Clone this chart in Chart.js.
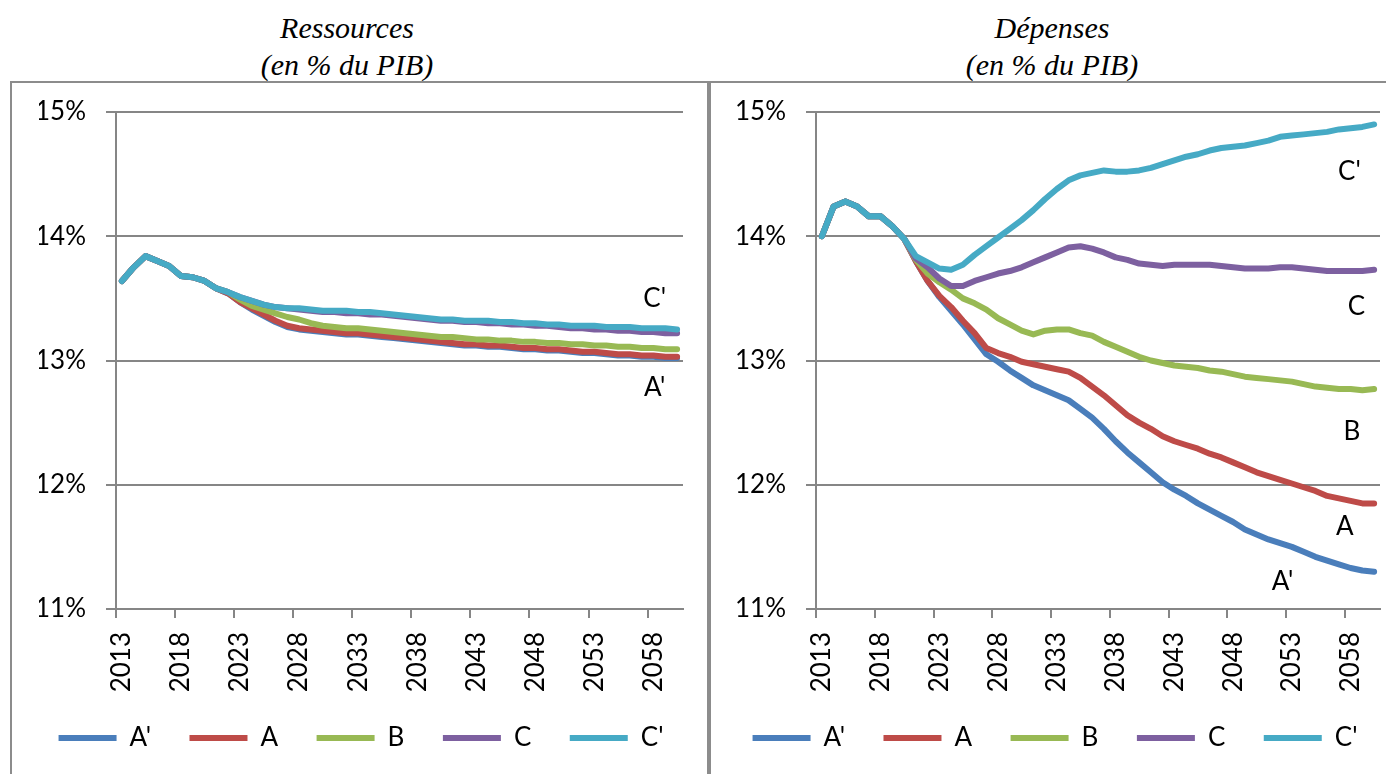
<!DOCTYPE html>
<html>
<head>
<meta charset="utf-8">
<script src="https://cdn.jsdelivr.net/npm/chart.js@4.4.1/dist/chart.umd.min.js"></script>
<style>
  html, body { margin: 0; padding: 0; background: #fff; width: 1386px; height: 774px; overflow: hidden; }
  .title { position: absolute; top: 9px; width: 694px; text-align: center; color: #000;
           font-family: "Liberation Serif", "Times New Roman", serif; font-style: italic;
           font-size: 30px; line-height: 37px; }
  .box { position: absolute; top: 81px; height: 720px; border: 2px solid #8c8c8c; box-sizing: border-box; }
  .wrap { position: absolute; top: 84px; height: 690px; }
</style>
</head>
<body>
<div class="title" style="left:0">Ressources<br>(en % du PIB)</div>
<div class="title" style="left:705px">Dépenses<br>(en % du PIB)</div>
<div class="box" style="left:10px;width:699px"></div>
<div class="box" style="left:709px;width:700px"></div>
<div class="wrap" style="left:12px;width:694px"><canvas id="chartRes" width="694" height="690"></canvas></div>
<div class="wrap" style="left:712px;width:674px"><canvas id="chartDep" width="674" height="690"></canvas></div>

<script>
// années 2013 à 2060
const years = [];
for (let y = 2013; y <= 2060; y++) years.push(String(y));

const seriesNames = ["A'", "A", "B", "C", "C'"];
const seriesColors = ["#4a7ebb", "#be4b48", "#98b954", "#7d60a0", "#46aac5"];
const yTickValues = [11, 12, 13, 14, 15];

// Ressources (en % du PIB)
const resAprime = [13.64, 13.75, 13.84, 13.80, 13.76, 13.68, 13.67, 13.64, 13.58, 13.54,
  13.47, 13.41, 13.36, 13.31, 13.27, 13.25, 13.24, 13.23, 13.22, 13.21,
  13.21, 13.20, 13.19, 13.18, 13.17, 13.16, 13.15, 13.14, 13.13, 13.12,
  13.12, 13.11, 13.11, 13.10, 13.09, 13.09, 13.08, 13.08, 13.07, 13.06,
  13.06, 13.05, 13.04, 13.04, 13.03, 13.03, 13.02, 13.02];
const resA = [13.64, 13.75, 13.84, 13.80, 13.76, 13.68, 13.67, 13.64, 13.58, 13.54,
  13.47, 13.42, 13.37, 13.32, 13.28, 13.26, 13.25, 13.24, 13.23, 13.22,
  13.22, 13.21, 13.20, 13.19, 13.18, 13.17, 13.16, 13.15, 13.14, 13.13,
  13.13, 13.12, 13.12, 13.11, 13.10, 13.10, 13.09, 13.09, 13.08, 13.07,
  13.07, 13.06, 13.05, 13.05, 13.04, 13.04, 13.03, 13.03];
const resB = [13.64, 13.75, 13.84, 13.80, 13.76, 13.68, 13.67, 13.64, 13.58, 13.55,
  13.49, 13.44, 13.41, 13.38, 13.35, 13.33, 13.30, 13.28, 13.27, 13.26,
  13.26, 13.25, 13.24, 13.23, 13.22, 13.21, 13.20, 13.19, 13.19, 13.18,
  13.17, 13.17, 13.16, 13.16, 13.15, 13.15, 13.14, 13.14, 13.13, 13.13,
  13.12, 13.12, 13.11, 13.11, 13.10, 13.10, 13.09, 13.09];
const resC = [13.64, 13.75, 13.84, 13.80, 13.76, 13.68, 13.67, 13.64, 13.58, 13.55,
  13.51, 13.48, 13.45, 13.43, 13.42, 13.41, 13.40, 13.39, 13.39, 13.38,
  13.38, 13.37, 13.37, 13.36, 13.35, 13.34, 13.33, 13.32, 13.32, 13.31,
  13.31, 13.30, 13.30, 13.29, 13.29, 13.28, 13.28, 13.27, 13.26, 13.26,
  13.25, 13.25, 13.24, 13.24, 13.23, 13.23, 13.22, 13.22];
const resCprime = [13.64, 13.75, 13.84, 13.80, 13.76, 13.68, 13.67, 13.64, 13.58, 13.55,
  13.51, 13.48, 13.45, 13.43, 13.42, 13.42, 13.41, 13.40, 13.40, 13.40,
  13.39, 13.39, 13.38, 13.37, 13.36, 13.35, 13.34, 13.33, 13.33, 13.32,
  13.32, 13.32, 13.31, 13.31, 13.30, 13.30, 13.29, 13.29, 13.28, 13.28,
  13.28, 13.27, 13.27, 13.27, 13.26, 13.26, 13.26, 13.25];

// Dépenses (en % du PIB)
const depAprime = [14.00, 14.24, 14.28, 14.24, 14.16, 14.16, 14.08, 13.98, 13.80, 13.64,
  13.51, 13.40, 13.29, 13.17, 13.05, 12.99, 12.92, 12.86, 12.80, 12.76,
  12.72, 12.68, 12.61, 12.54, 12.45, 12.35, 12.26, 12.18, 12.10, 12.02,
  11.96, 11.91, 11.85, 11.80, 11.75, 11.70, 11.64, 11.60, 11.56, 11.53,
  11.50, 11.46, 11.42, 11.39, 11.36, 11.33, 11.31, 11.30];
const depA = [14.00, 14.24, 14.28, 14.24, 14.16, 14.16, 14.08, 13.98, 13.80, 13.64,
  13.52, 13.43, 13.32, 13.22, 13.10, 13.06, 13.03, 12.99, 12.97, 12.95,
  12.93, 12.91, 12.86, 12.79, 12.72, 12.64, 12.56, 12.50, 12.45, 12.39,
  12.35, 12.32, 12.29, 12.25, 12.22, 12.18, 12.14, 12.10, 12.07, 12.04,
  12.01, 11.98, 11.95, 11.91, 11.89, 11.87, 11.85, 11.85];
const depB = [14.00, 14.24, 14.28, 14.24, 14.16, 14.16, 14.08, 13.98, 13.81, 13.70,
  13.63, 13.57, 13.50, 13.46, 13.41, 13.34, 13.29, 13.24, 13.21, 13.24,
  13.25, 13.25, 13.22, 13.20, 13.15, 13.11, 13.07, 13.03, 13.00, 12.98,
  12.96, 12.95, 12.94, 12.92, 12.91, 12.89, 12.87, 12.86, 12.85, 12.84,
  12.83, 12.81, 12.79, 12.78, 12.77, 12.77, 12.76, 12.77];
const depC = [14.00, 14.24, 14.28, 14.24, 14.16, 14.16, 14.08, 13.98, 13.82, 13.75,
  13.66, 13.60, 13.60, 13.64, 13.67, 13.70, 13.72, 13.75, 13.79, 13.83,
  13.87, 13.91, 13.92, 13.90, 13.87, 13.83, 13.81, 13.78, 13.77, 13.76,
  13.77, 13.77, 13.77, 13.77, 13.76, 13.75, 13.74, 13.74, 13.74, 13.75,
  13.75, 13.74, 13.73, 13.72, 13.72, 13.72, 13.72, 13.73];
const depCprime = [14.00, 14.24, 14.28, 14.24, 14.16, 14.16, 14.08, 13.98, 13.84, 13.79,
  13.74, 13.73, 13.77, 13.85, 13.92, 13.99, 14.06, 14.13, 14.21, 14.30,
  14.38, 14.45, 14.49, 14.51, 14.53, 14.52, 14.52, 14.53, 14.55, 14.58,
  14.61, 14.64, 14.66, 14.69, 14.71, 14.72, 14.73, 14.75, 14.77, 14.80,
  14.81, 14.82, 14.83, 14.84, 14.86, 14.87, 14.88, 14.90];

// étiquettes des courbes (position en index d'année, valeur)
const resLabelText = ["C'", "A'"];
const resLabelX = [45.1, 45.1];
const resLabelY = [13.50, 12.78];
const depLabelText = ["C'", "C", "B", "A", "A'"];
const depLabelX = [44.9, 45.5, 45.1, 44.5, 39.2];
const depLabelY = [14.52, 13.43, 12.43, 11.66, 11.22];

const FONT = "Lato, 'Open Sans', sans-serif";
const GRID = "#868686";

// étiquettes dessinées dans la zone du graphique
const seriesLabels = {
  id: "seriesLabels",
  afterDatasetsDraw(chart, args, opts) {
    const ctx = chart.ctx;
    const x = chart.scales.x;
    const y = chart.scales.y;
    ctx.save();
    ctx.font = "26px " + FONT;
    ctx.fillStyle = "#000";
    ctx.textAlign = "center";
    ctx.textBaseline = "middle";
    opts.text.forEach(function (t, i) {
      ctx.fillText(t, x.getPixelForValue(opts.xs[i]), y.getPixelForValue(opts.ys[i]));
    });
    ctx.restore();
  }
};

function makeChart(id, data, labelText, labelX, labelY, padLeft, padRight) {
  const datasets = seriesNames.map(function (name, i) {
    return {
      label: name,
      data: data[i],
      borderColor: seriesColors[i],
      backgroundColor: seriesColors[i],
      borderWidth: 6,
      borderCapStyle: "round",
      borderJoinStyle: "round",
      pointRadius: 0,
      tension: 0,
      order: seriesNames.length - 1 - i
    };
  });

  return new Chart(document.getElementById(id), {
    type: "line",
    data: { labels: years, datasets: datasets },
    plugins: [seriesLabels],
    options: {
      responsive: false,
      animation: false,
      layout: { padding: { left: padLeft, right: padRight, top: 28, bottom: 13 } },
      plugins: {
        title: { display: false },
        tooltip: { enabled: false },
        seriesLabels: { text: labelText, xs: labelX, ys: labelY },
        legend: {
          position: "bottom",
          labels: {
            usePointStyle: true,
            pointStyle: "line",
            pointStyleWidth: 58,
            padding: 6,
            color: "#000",
            font: { family: FONT, size: 26 },
            // espace après chaque entrée sauf la dernière
            generateLabels: function (chart) {
              const items = Chart.defaults.plugins.legend.labels.generateLabels(chart);
              items.forEach(function (it) {
                if (it.datasetIndex < seriesNames.length - 1) it.text += "\u2003\u2002";
              });
              return items;
            },
            sort: function (a, b) { return a.datasetIndex - b.datasetIndex; }
          }
        }
      },
      scales: {
        x: {
          offset: true,
          afterFit: function (scale) {
            scale.height = 110;
            scale.paddingLeft = 0;
            scale.paddingRight = 0;
          },
          grid: {
            offset: true,
            drawOnChartArea: false,
            drawTicks: true,
            tickLength: 9,
            lineWidth: 2,
            color: function (ctx) { return ctx.index % 5 === 0 ? GRID : "rgba(0,0,0,0)"; }
          },
          border: { display: true, color: GRID, width: 2 },
          ticks: {
            autoSkip: false,
            maxRotation: 90,
            minRotation: 90,
            padding: 14,
            color: "#000",
            font: { family: FONT, size: 26 },
            callback: function (val, index) { return index % 5 === 0 ? this.getLabelForValue(val) : ""; }
          }
        },
        y: {
          min: yTickValues[0],
          max: yTickValues[yTickValues.length - 1],
          afterFit: function (scale) {
            scale.width = 104 - padLeft;
            scale.paddingTop = 0;
            scale.paddingBottom = 0;
          },
          afterBuildTicks: function (scale) {
            scale.ticks = yTickValues.map(function (v) { return { value: v }; });
          },
          grid: { color: GRID, lineWidth: 2, tickLength: 10 },
          border: { display: true, color: GRID, width: 2 },
          ticks: {
            padding: 20,
            color: "#000",
            font: { family: FONT, size: 26 },
            callback: function (v) { return v + "%"; }
          }
        }
      }
    }
  });
}

makeChart("chartRes", [resAprime, resA, resB, resC, resCprime], resLabelText, resLabelX, resLabelY, 27, 23);
makeChart("chartDep", [depAprime, depA, depB, depC, depCprime], depLabelText, depLabelX, depLabelY, 18, 6);
</script>
</body>
</html>
